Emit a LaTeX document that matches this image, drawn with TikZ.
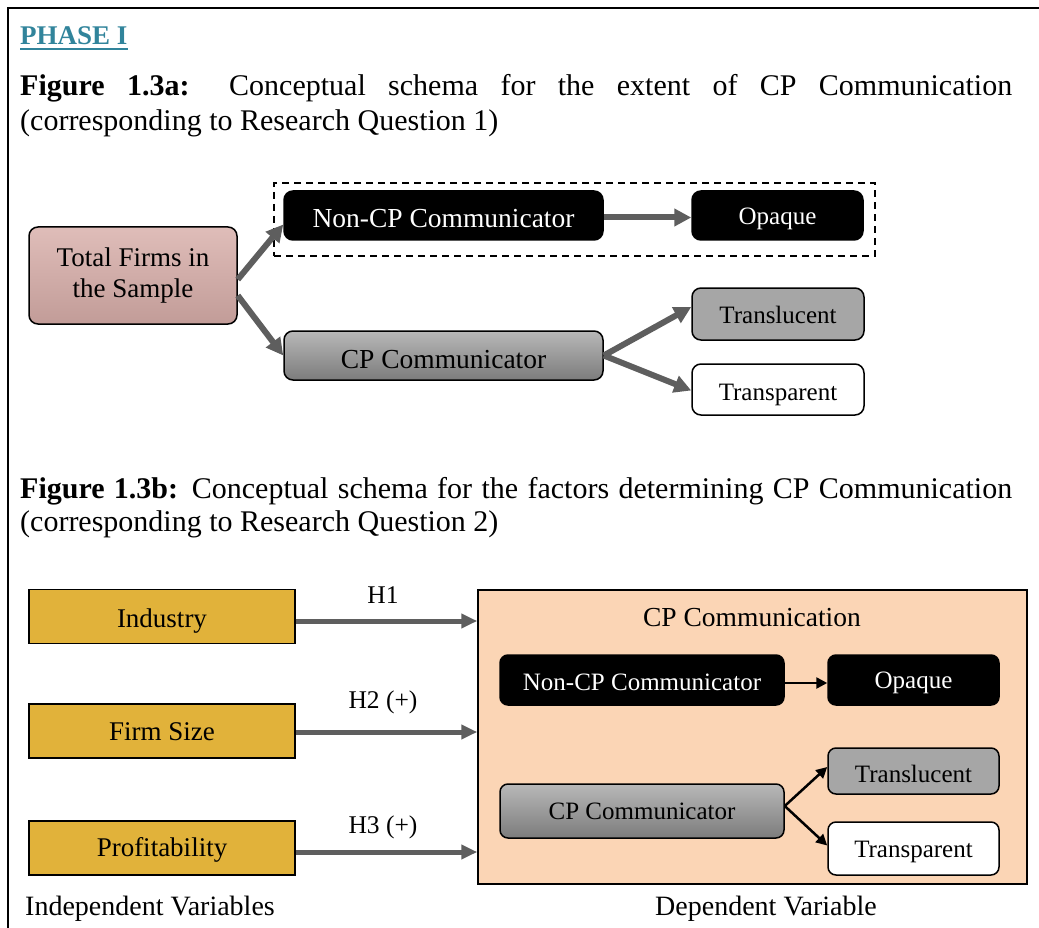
\documentclass[tikz,border=0pt]{standalone}
\usepackage{fontspec}
\setmainfont{Liberation Serif}
\usetikzlibrary{arrows.meta,calc}

\definecolor{phasecol}{HTML}{31849B}
\definecolor{pinktop}{HTML}{DFBDB9}
\definecolor{pinkbot}{HTML}{C29C98}
\definecolor{graytop}{HTML}{B8B8B8}
\definecolor{graybot}{HTML}{7C7C7C}
\definecolor{midgray}{HTML}{A6A6A6}
\definecolor{goldfill}{HTML}{E1B23A}
\definecolor{peach}{HTML}{FBD5B5}
\definecolor{arrowgray}{HTML}{5E5E5E}

\newcommand\sz[2]{\fontsize{#1}{#2}\selectfont}

\tikzset{
  x=1pt, y=-1pt,
  % baseline sits #1 below the centre of the node
  boff/.style={text height=2*#1, text depth=0pt},
  box/.style={draw=black, line width=1.5pt, rounded corners=9pt, inner sep=0pt, align=center},
  blackbox/.style={box, fill=black, text=white},
  gradbox/.style={box, top color=graytop, bottom color=graybot},
  pinkbox/.style={box, top color=pinktop, bottom color=pinkbot},
  lgraybox/.style={box, fill=midgray},
  whitebox/.style={box, fill=white},
  varbox/.style={draw=black, line width=1.5pt, fill=goldfill, inner sep=0pt,
    minimum width=266pt, minimum height=54pt, font=\sz{27}{31}},
  dashbox/.style={draw=black, line width=1.5pt, dash pattern=on 7pt off 5pt, inner sep=0pt},
  bigarrow/.style={draw=arrowgray, line width=6pt, -{Triangle[length=17pt,width=17pt]}},
  midarrow/.style={draw=arrowgray, line width=5pt, -{Triangle[length=16pt,width=14pt]}},
  smallarrow/.style={draw=black, line width=2.5pt, -{Triangle[length=11pt,width=11pt]}},
  textblock/.style={inner sep=0pt, text width=992pt, align=justify},
  plain/.style={inner sep=0pt, anchor=base},
}

\begin{document}
\begin{tikzpicture}
\useasboundingbox (0,0) rectangle (1039,928);

% frame
\draw[line width=2pt] (8,928) -- (8,8) -- (1039,8);

% heading
\node[inner sep=0pt, anchor=base west, text=phasecol, font=\bfseries\sz{27}{31}] (phase) at (20,45) {PHASE I};
\draw[phasecol, line width=2pt] ([yshift=-4pt]phase.base west) -- ([yshift=-4pt]phase.base east);

% caption of part a
\node[textblock, anchor=north west, font=\sz{30}{35}] (capa) at (20,74)
  {\textbf{Figure 1.3a:} Conceptual schema for the extent of CP Communication\linebreak (corresponding to Research Question 1)};

% part a: nodes
\node[dashbox, minimum width=601pt, minimum height=73pt] (grp) at (574.5,219.5) {};
\node[pinkbox, minimum width=208pt, minimum height=97pt, font=\sz{27}{31}] (tot) at (133,275.5) {Total Firms in\\the Sample};
\node[blackbox, boff=12.5pt, minimum width=319pt, minimum height=49pt, font=\sz{27.5}{31}] (noncpa) at (443.5,215.5) {Non-CP Communicator};
\node[blackbox, boff=9.5pt, minimum width=171pt, minimum height=49pt, font=\sz{25}{29}] (opqa) at (777.5,215.5) {Opaque};
\node[gradbox, boff=12.5pt, minimum width=319pt, minimum height=49pt, font=\sz{27.5}{31}] (cpa) at (443.5,355.5) {CP Communicator};
\node[lgraybox, boff=9pt, minimum width=172pt, minimum height=52pt, font=\sz{25}{29}] (tla) at (778,314) {Translucent};
\node[whitebox, boff=10.5pt, minimum width=172pt, minimum height=51pt, font=\sz{25}{29}] (tpa) at (778,389.5) {Transparent};

% part a: connectors
\draw[bigarrow] ([yshift=-4pt]tot.east) -- ([yshift=-9pt]noncpa.west);
\draw[bigarrow] ([yshift=-20pt]tot.east) -- (cpa.west);
\draw[bigarrow] ([yshift=-2pt]noncpa.east) -- ([yshift=-2pt]opqa.west);
\draw[bigarrow] (cpa.east) -- ([yshift=7pt]tla.west);
\draw[bigarrow] (cpa.east) -- ([yshift=-1pt]tpa.west);

% caption of part b
\node[textblock, anchor=north west, font=\sz{30}{33}] (capb) at (20,477)
  {\textbf{Figure 1.3b:} Conceptual schema for the factors determining CP Communication (corresponding to Research Question 2)};

% part b: independent variables
\node[varbox, boff=10.5pt] (ind) at (162,616.5) {Industry};
\node[varbox, boff=9pt] (fsz) at (162,731) {Firm Size};
\node[varbox, boff=8pt] (prof) at (162,848) {Profitability};

% part b: dependent variable
\node[draw=black, line width=1.5pt, fill=peach, inner sep=0pt, minimum width=549pt, minimum height=294pt] (dv) at (752.5,737) {};
\node[plain, font=\sz{27.5}{31}] (dvtitle) at (752,626) {CP Communication};
\node[blackbox, boff=10pt, rounded corners=8pt, minimum width=284pt, minimum height=50pt, font=\sz{25}{29}] (noncpb) at (642,680) {Non-CP Communicator};
\node[blackbox, boff=8pt, rounded corners=8pt, minimum width=171pt, minimum height=50pt, font=\sz{25}{29}] (opqb) at (913.5,680) {Opaque};
\node[gradbox, boff=8pt, rounded corners=8pt, minimum width=284pt, minimum height=54pt, font=\sz{25}{29}] (cpb) at (642,811) {CP Communicator};
\node[lgraybox, boff=11pt, rounded corners=8pt, minimum width=171pt, minimum height=46pt, font=\sz{25}{29}] (tlb) at (913.5,771) {Translucent};
\node[whitebox, boff=8.5pt, rounded corners=8pt, minimum width=171pt, minimum height=53pt, font=\sz{25}{29}] (tpb) at (913.5,848.5) {Transparent};

% part b: connectors and their labels
\draw[midarrow] ([yshift=-4.5pt]ind.east) -- ([yshift=-4.5pt]ind.east -| dv.west);
\draw[midarrow] ([yshift=-1pt]fsz.east) -- ([yshift=-1pt]fsz.east -| dv.west);
\draw[midarrow] ([yshift=-4pt]prof.east) -- ([yshift=-4pt]prof.east -| dv.west);
\node[plain, font=\sz{25.5}{29}] (h1) at (383,603) {H1};
\node[plain, font=\sz{25.5}{29}] (h2) at (383,708) {H2 (+)};
\node[plain, font=\sz{25.5}{29}] (h3) at (383,833) {H3 (+)};
\draw[smallarrow] ([yshift=-3pt]noncpb.east) -- ([yshift=-3pt]opqb.west);
\draw[smallarrow] ([yshift=5pt]cpb.east) -- ([yshift=4pt]tlb.west);
\draw[smallarrow] ([yshift=5pt]cpb.east) -- ([yshift=3pt]tpb.west);

% axis captions
\node[plain, font=\sz{28}{32}] (indcap) at (150,915) {Independent Variables};
\node[plain, font=\sz{28}{32}] (depcap) at (766,915) {Dependent Variable};
\end{tikzpicture}
\end{document}
